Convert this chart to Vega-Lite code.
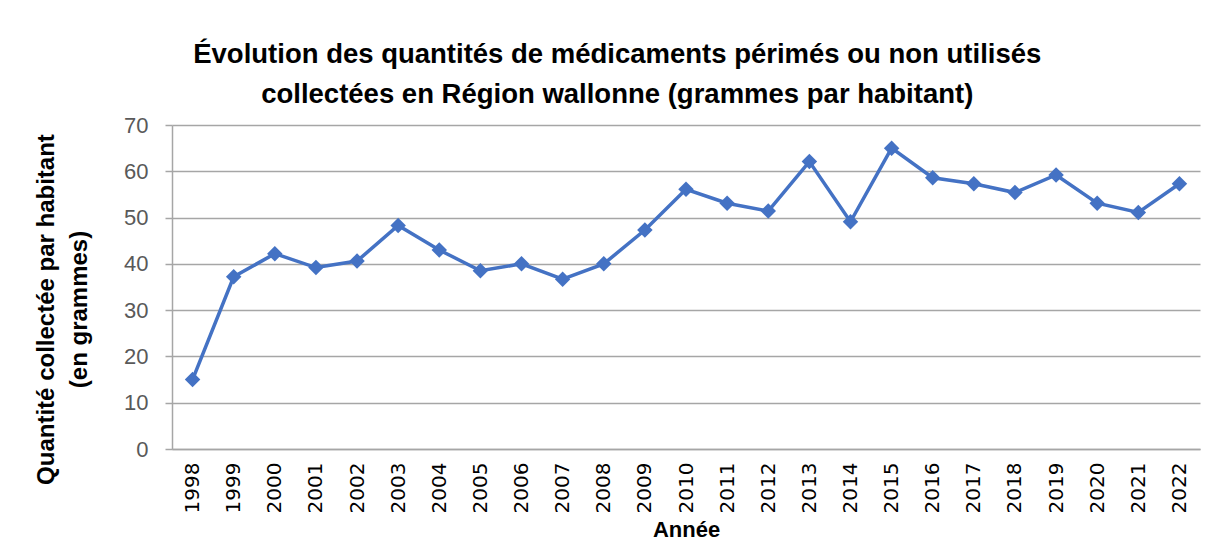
{
  "$schema": "https://vega.github.io/schema/vega-lite/v6.json",
  "width": 1028,
  "height": 324,
  "autosize": {"type": "none"},
  "padding": {"left": 172, "top": 125, "right": 26, "bottom": 92},
  "background": "white",
  "title": {
    "text": ["Évolution des quantités de médicaments périmés ou non utilisés", "collectées en Région wallonne (grammes par habitant)"],
    "font": "Liberation Sans",
    "fontSize": 27.5,
    "fontWeight": "bold",
    "color": "#000000",
    "lineHeight": 40,
    "anchor": "middle",
    "frame": "bounds",
    "offset": 6
  },
  "data": {
    "values": [
      {"annee": "1998", "valeur": 15.0},
      {"annee": "1999", "valeur": 37.2},
      {"annee": "2000", "valeur": 42.2},
      {"annee": "2001", "valeur": 39.2},
      {"annee": "2002", "valeur": 40.6},
      {"annee": "2003", "valeur": 48.3},
      {"annee": "2004", "valeur": 43.0},
      {"annee": "2005", "valeur": 38.5},
      {"annee": "2006", "valeur": 40.0},
      {"annee": "2007", "valeur": 36.7},
      {"annee": "2008", "valeur": 40.0},
      {"annee": "2009", "valeur": 47.3},
      {"annee": "2010", "valeur": 56.1},
      {"annee": "2011", "valeur": 53.1},
      {"annee": "2012", "valeur": 51.4},
      {"annee": "2013", "valeur": 62.1},
      {"annee": "2014", "valeur": 49.1},
      {"annee": "2015", "valeur": 65.0},
      {"annee": "2016", "valeur": 58.6},
      {"annee": "2017", "valeur": 57.3},
      {"annee": "2018", "valeur": 55.4},
      {"annee": "2019", "valeur": 59.2},
      {"annee": "2020", "valeur": 53.1},
      {"annee": "2021", "valeur": 51.1},
      {"annee": "2022", "valeur": 57.3}
    ]
  },
  "encoding": {
    "x": {
      "field": "annee",
      "type": "ordinal",
      "scale": {"paddingInner": 0, "paddingOuter": 0},
      "axis": {
        "title": "Année",
        "titleFont": "Liberation Sans",
        "titleFontSize": 22,
        "titleFontWeight": "bold",
        "titleColor": "#000000",
        "titlePadding": 7,
        "labelAngle": -90,
        "labelFont": "DejaVu Sans",
        "labelFontSize": 20,
        "labelColor": "#000000",
        "labelPadding": 13,
        "ticks": false,
        "domainColor": "#a6a6a6",
        "domainWidth": 1.5,
        "grid": false
      }
    },
    "y": {
      "field": "valeur",
      "type": "quantitative",
      "scale": {"domain": [0, 70], "nice": false},
      "axis": {
        "title": ["Quantité collectée par habitant", "(en grammes)"],
        "titleFont": "Liberation Sans",
        "titleFontSize": 24,
        "titleFontWeight": "bold",
        "titleColor": "#000000",
        "titleLineHeight": 33,
        "titlePadding": 32,
        "titleY": 184,
        "values": [0, 10, 20, 30, 40, 50, 60, 70],
        "labelFont": "Liberation Sans",
        "labelFontSize": 22,
        "labelColor": "#595959",
        "labelPadding": 17,
        "tickSize": 7,
        "tickColor": "#a6a6a6",
        "tickWidth": 1.5,
        "domainColor": "#a6a6a6",
        "domainWidth": 1.5,
        "gridColor": "#a6a6a6",
        "gridWidth": 1.5
      }
    }
  },
  "layer": [
    {"mark": {"type": "line", "color": "#4472C4", "strokeWidth": 3.5}},
    {"mark": {"type": "point", "shape": "diamond", "filled": true, "color": "#4472C4", "opacity": 1, "size": 240}}
  ],
  "config": {"view": {"stroke": null}}
}
